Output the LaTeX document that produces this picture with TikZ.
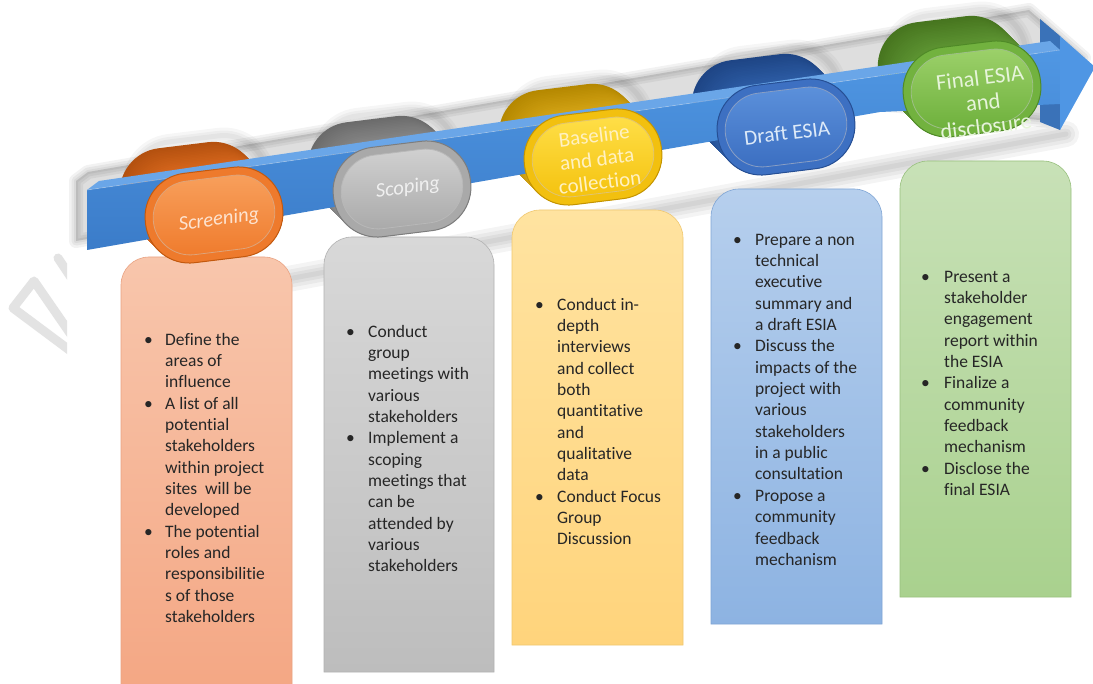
\documentclass[tikz,border=0pt]{standalone}
\usepackage{fontspec}
\setmainfont{Carlito}[Ligatures=NoCommon]
\usetikzlibrary{calc}

% stage colours: back of extrusion, side, rim, rim edge, panel highlight, panel base, label
\definecolor{orback}{HTML}{B4510F}\definecolor{orside}{HTML}{DC6A1F}
\definecolor{orrim}{HTML}{EE7A2C}\definecolor{oredge}{HTML}{C2590F}
\definecolor{orhi}{HTML}{F8A15E}\definecolor{orlo}{HTML}{EF7A2B}
\definecolor{orlabel}{HTML}{FDE3D0}

\definecolor{grback}{HTML}{6B6B6B}\definecolor{grside}{HTML}{8E8E8E}
\definecolor{grrim}{HTML}{A9A9A9}\definecolor{gredge}{HTML}{7D7D7D}
\definecolor{grhi}{HTML}{D2D2D2}\definecolor{grlo}{HTML}{A8A8A8}
\definecolor{grlabel}{HTML}{F0F0F0}

\definecolor{yeback}{HTML}{B58800}\definecolor{yeside}{HTML}{D6A617}
\definecolor{yerim}{HTML}{F2C00F}\definecolor{yeedge}{HTML}{C49400}
\definecolor{yehi}{HTML}{FFE04A}\definecolor{yelo}{HTML}{F4C10C}
\definecolor{yelabel}{HTML}{FFF1C2}

\definecolor{blback}{HTML}{1E4585}\definecolor{blside}{HTML}{2D5DA6}
\definecolor{blrim}{HTML}{3D70C2}\definecolor{bledge}{HTML}{264F94}
\definecolor{blhi}{HTML}{5D92DC}\definecolor{bllo}{HTML}{3A6DC0}
\definecolor{bllabel}{HTML}{DDEAF8}

\definecolor{gnback}{HTML}{47751F}\definecolor{gnside}{HTML}{5D9432}
\definecolor{gnrim}{HTML}{72B23F}\definecolor{gnedge}{HTML}{4F8A27}
\definecolor{gnhi}{HTML}{9ED26C}\definecolor{gnlo}{HTML}{6CAF3A}
\definecolor{gnlabel}{HTML}{E6F4DA}

% description panels
\definecolor{pAtop}{HTML}{F8C6AC}\definecolor{pAbot}{HTML}{F4A784}\definecolor{pAedge}{HTML}{E9A383}
\definecolor{pBtop}{HTML}{D8D8D8}\definecolor{pBbot}{HTML}{BDBDBD}\definecolor{pBedge}{HTML}{B2B2B2}
\definecolor{pCtop}{HTML}{FFE3A0}\definecolor{pCbot}{HTML}{FFD47C}\definecolor{pCedge}{HTML}{F0C870}
\definecolor{pDtop}{HTML}{B6CFED}\definecolor{pDbot}{HTML}{8DB3E2}\definecolor{pDedge}{HTML}{7FA5D5}
\definecolor{pEtop}{HTML}{C8E1B7}\definecolor{pEbot}{HTML}{A9D18E}\definecolor{pEedge}{HTML}{98C07E}

% timeline arrow
\definecolor{bartop}{HTML}{6AA6E8}
\definecolor{barhi}{HTML}{5097E3}
\definecolor{barlo}{HTML}{3B7CC9}
\definecolor{headdark}{HTML}{3A72B8}
\definecolor{headlight}{HTML}{4F96E4}
\definecolor{ink}{HTML}{262626}

\tikzset{
  listtext/.style={anchor=north west, inner sep=0pt, text=ink,
    font=\fontsize{17.5}{21.35}\selectfont},
  pilllabel/.style={rotate=7, inner sep=0pt, align=center},
  panelbox/.style={line width=0.6pt},
}

% extruded back of a stage pill (sits behind the timeline bar)
% #1,#2 centre of the front face, #3 colour prefix
\newcommand{\pillbody}[3]{%
  \begin{scope}[shift={(#1,#2)}, rotate=7]
    \foreach \w in {16,10,5}{%
      \draw[black, opacity=0.035, line width=\w pt, rounded corners=44pt]
        (-80,-78) rectangle (58,12);
    }
    \foreach \k in {0,...,18}{%
      \pgfmathsetmacro{\f}{1-\k/18}%
      \pgfmathsetmacro{\m}{100*\k/18}%
      \fill[#3side!\m!#3back, rounded corners=44pt]
        ({-69-22*\f},{-45-28*\f}) rectangle ({69-22*\f},{45-28*\f});
    }
  \end{scope}}

% front face of a stage pill (sits in front of the bar)
\newcommand{\pillface}[3]{%
  \begin{scope}[shift={(#1,#2)}, rotate=7]
    \fill[#3rim, draw=#3edge, line width=1pt, rounded corners=44pt]
      (-69,-45) rectangle (69,45);
    \shade[top color=#3hi, bottom color=#3lo, rounded corners=37pt]
      (-61,-37) rectangle (61,37);
    \draw[#3edge!55!white, line width=0.8pt, rounded corners=37pt]
      (-61,-37) rectangle (61,37);
  \end{scope}}

% a description panel with rounded top corners:
% #1 left, #2 right, #3 top, #4 bottom, #5 colour prefix
\newcommand{\stagepanel}[5]{%
  \path[panelbox, top color=#5top, bottom color=#5bot, draw=#5edge]
    (#1,#4) -- ({#1},{#3+28}) arc[start angle=180, end angle=90, radius=28pt]
    -- ({#2-28},{#3}) arc[start angle=90, end angle=0, radius=28pt]
    -- (#2,#4) -- cycle;}

\begin{document}
\begin{tikzpicture}[x=1pt,y=-1pt]
\useasboundingbox (0,0) rectangle (1093,684);
\fill[white] (0,0) rectangle (1093,684);

% faint watermark strokes at the left margin
\begin{scope}
  \clip (0,240) rectangle (67,370);
  \draw[gray!22, line width=9pt, line cap=round, line join=round]
    (72,352) -- (13,308) -- (34,281) -- (72,336);
  \draw[gray!22, line width=9pt, line cap=round] (58,258) -- (72,279);
\end{scope}

% soft band cast below the timeline (seen between the panels)
\foreach \w in {26,18,11,5}{%
  \draw[black, opacity=0.045, line width=\w pt, line cap=round]
    (288,279) -- (1066,134);
}

% description panels
\stagepanel{121}{292}{257}{690}{pA}
\stagepanel{324}{494}{237}{672}{pB}
\stagepanel{512}{683}{210}{645}{pC}
\stagepanel{711}{882}{189}{624}{pD}
\stagepanel{900}{1071}{161}{597}{pE}

% shadow of the timeline arrow
\begin{scope}[shift={(-11,-9)}]
  \fill[black, opacity=0.13] (87,250) -- (87,190) -- (99,181) -- (1040,19)
    -- (1095,67) -- (1060,130) -- (880,112) -- cycle;
  \foreach \w in {14,9,4}{%
    \draw[black, opacity=0.05, line width=\w pt, line join=round]
      (87,250) -- (87,190) -- (99,181) -- (1040,19)
      -- (1095,67) -- (1060,130) -- (880,112) -- cycle;
  }
\end{scope}

% backs of the stage pills
\pillbody{214}{215}{or}
\pillbody{402}{189}{gr}
\pillbody{593}{157}{ye}
\pillbody{786}{127}{bl}
\pillbody{972}{89}{gn}

% timeline arrow: head side faces, bar, head front
\fill[headdark] (1040,19) -- (1060,36) -- (1060,130) -- (1040,122) -- cycle;
\fill[bartop] (87,190) -- (99,181) -- (1050,41) -- (1060,50) -- cycle;
\shade[top color=barhi, bottom color=barlo]
  (87,190) -- (1060,50) -- (1060,104) -- (880,112) -- (87,250) -- cycle;
\draw[white, opacity=0.35, line width=0.6pt] (87,190) -- (1060,50);
\fill[headlight] (1060,36) -- (1095,67) -- (1060,130) -- cycle;

% fronts of the stage pills
\pillface{214}{215}{or}
\pillface{402}{189}{gr}
\pillface{593}{157}{ye}
\pillface{786}{127}{bl}
\pillface{972}{89}{gn}

% pill labels
\node[pilllabel, text=orlabel, font=\fontsize{20.5}{24}\selectfont\itshape]
  (s1) at (219,220) {Screening};
\node[pilllabel, text=grlabel, font=\fontsize{20.5}{24}\selectfont\itshape]
  (s2) at (408,188) {Scoping};
\node[pilllabel, text=yelabel, font=\fontsize{21}{23.5}\selectfont]
  (s3) at (597,159) {Baseline\\and data\\collection};
\node[pilllabel, text=bllabel, font=\fontsize{21.3}{24}\selectfont]
  (s4) at (787,133) {Draft ESIA};
\node[pilllabel, text=gnlabel, font=\fontsize{22.5}{24.5}\selectfont]
  (s5) at (983,102) {Final ESIA\\and\\disclosure};

% panel texts
\node[listtext] (t1) at (144,330) {\begin{tabular}{@{}p{21pt}@{}l@{}}
\textbullet & Define the\\
 & areas of\\
 & influence\\
\textbullet & A list of all\\
 & potential\\
 & stakeholders\\
 & within project\\
 & sites~ will be\\
 & developed\\
\textbullet & The potential\\
 & roles and\\
 & responsibilitie\\
 & s of those\\
 & stakeholders
\end{tabular}};

\node[listtext] (t2) at (346,322) {\begin{tabular}{@{}p{22pt}@{}l@{}}
\textbullet & Conduct\\
 & group\\
 & meetings with\\
 & various\\
 & stakeholders\\
\textbullet & Implement a\\
 & scoping\\
 & meetings that\\
 & can be\\
 & attended by\\
 & various\\
 & stakeholders
\end{tabular}};

\node[listtext] (t3) at (535,295) {\begin{tabular}{@{}p{22pt}@{}l@{}}
\textbullet & Conduct in-\\
 & depth\\
 & interviews\\
 & and collect\\
 & both\\
 & quantitative\\
 & and\\
 & qualitative\\
 & data\\
\textbullet & Conduct Focus\\
 & Group\\
 & Discussion
\end{tabular}};

\node[listtext] (t4) at (733,230) {\begin{tabular}{@{}p{22pt}@{}l@{}}
\textbullet & Prepare a non\\
 & technical\\
 & executive\\
 & summary and\\
 & a draft ESIA\\
\textbullet & Discuss the\\
 & impacts of the\\
 & project with\\
 & various\\
 & stakeholders\\
 & in a public\\
 & consultation\\
\textbullet & Propose a\\
 & community\\
 & feedback\\
 & mechanism
\end{tabular}};

\node[listtext] (t5) at (921,267) {\begin{tabular}{@{}p{23pt}@{}l@{}}
\textbullet & Present a\\
 & stakeholder\\
 & engagement\\
 & report within\\
 & the ESIA\\
\textbullet & Finalize a\\
 & community\\
 & feedback\\
 & mechanism\\
\textbullet & Disclose the\\
 & final ESIA
\end{tabular}};
\end{tikzpicture}
\end{document}
